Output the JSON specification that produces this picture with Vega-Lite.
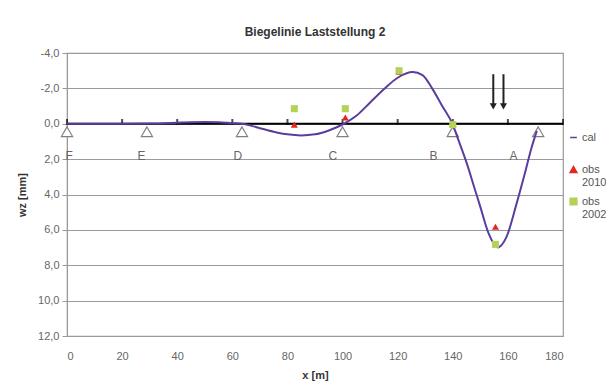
{
  "$schema": "https://vega.github.io/schema/vega-lite/v6.json",
  "width": 496,
  "height": 283,
  "autosize": "none",
  "padding": {"left": 67, "top": 53, "right": 43, "bottom": 51},
  "background": "white",
  "title": {"text": "Biegelinie Laststellung 2", "fontSize": 12, "font": "Liberation Sans", "fontWeight": "bold", "color": "#333333", "offset": 8, "anchor": "middle"},
  "config": {"view": {"stroke": "#999999", "strokeWidth": 1.2}, "font": "Liberation Sans"},
  "datasets": {
    "cal": [
      {"x": 0, "w": 0, "series": "cal"}, {"x": 10, "w": 0, "series": "cal"}, {"x": 20, "w": 0, "series": "cal"},
      {"x": 30, "w": -0.01, "series": "cal"}, {"x": 35, "w": -0.03, "series": "cal"}, {"x": 40, "w": -0.06, "series": "cal"},
      {"x": 45, "w": -0.09, "series": "cal"}, {"x": 50, "w": -0.1, "series": "cal"}, {"x": 55, "w": -0.08, "series": "cal"},
      {"x": 60, "w": -0.03, "series": "cal"}, {"x": 63.5, "w": 0, "series": "cal"}, {"x": 67, "w": 0.12, "series": "cal"},
      {"x": 70, "w": 0.25, "series": "cal"}, {"x": 75, "w": 0.45, "series": "cal"}, {"x": 80, "w": 0.6, "series": "cal"},
      {"x": 85, "w": 0.66, "series": "cal"}, {"x": 90, "w": 0.6, "series": "cal"}, {"x": 95, "w": 0.38, "series": "cal"},
      {"x": 100.5, "w": 0, "series": "cal"}, {"x": 105, "w": -0.45, "series": "cal"}, {"x": 110, "w": -1.2, "series": "cal"},
      {"x": 115, "w": -1.95, "series": "cal"}, {"x": 120, "w": -2.6, "series": "cal"}, {"x": 125.5, "w": -2.92, "series": "cal"},
      {"x": 129, "w": -2.75, "series": "cal"}, {"x": 132.5, "w": -2.0, "series": "cal"}, {"x": 136, "w": -1.05, "series": "cal"},
      {"x": 140, "w": 0.05, "series": "cal"}, {"x": 142, "w": 0.9, "series": "cal"}, {"x": 145, "w": 2.2, "series": "cal"},
      {"x": 148, "w": 3.7, "series": "cal"}, {"x": 150, "w": 4.7, "series": "cal"}, {"x": 153, "w": 6.2, "series": "cal"},
      {"x": 156.3, "w": 6.99, "series": "cal"}, {"x": 159.5, "w": 6.4, "series": "cal"}, {"x": 163, "w": 4.6, "series": "cal"},
      {"x": 166.5, "w": 2.6, "series": "cal"}, {"x": 168.5, "w": 1.4, "series": "cal"}, {"x": 170.5, "w": 0.4, "series": "cal"}
    ],
    "obs": [
      {"x": 82.5, "w": 0.05, "series": "obs 2010"}, {"x": 101, "w": -0.35, "series": "obs 2010"},
      {"x": 120.5, "w": -2.95, "series": "obs 2010"}, {"x": 140, "w": 0.0, "series": "obs 2010"},
      {"x": 155.5, "w": 5.82, "series": "obs 2010"},
      {"x": 82.5, "w": -0.85, "series": "obs 2002"}, {"x": 101, "w": -0.85, "series": "obs 2002"},
      {"x": 120.5, "w": -3.0, "series": "obs 2002"}, {"x": 140, "w": 0.05, "series": "obs 2002"},
      {"x": 155.5, "w": 6.82, "series": "obs 2002"}
    ],
    "supports": [
      {"x": 0, "w": 0.45}, {"x": 29, "w": 0.45}, {"x": 63.5, "w": 0.45},
      {"x": 100, "w": 0.45}, {"x": 140, "w": 0.45}, {"x": 171, "w": 0.45}
    ],
    "spans": [
      {"x": 0.8, "w": 1.8, "label": "F"}, {"x": 27, "w": 1.8, "label": "E"}, {"x": 62, "w": 1.8, "label": "D"},
      {"x": 96.5, "w": 1.8, "label": "C"}, {"x": 133, "w": 1.8, "label": "B"}, {"x": 162, "w": 1.8, "label": "A"}
    ],
    "beam": [{"x": 0, "x2": 180, "w": 0}],
    "ticks": [
      {"x": 0, "w": -0.1}, {"x": 20, "w": -0.1}, {"x": 40, "w": -0.1}, {"x": 60, "w": -0.1}, {"x": 80, "w": -0.1},
      {"x": 100, "w": -0.1}, {"x": 120, "w": -0.1}, {"x": 140, "w": -0.1}, {"x": 160, "w": -0.1}, {"x": 180, "w": -0.1}
    ],
    "arrows": [
      {"x": 154.7, "w": -2.8, "w2": -1.1, "head": -0.98},
      {"x": 158.4, "w": -2.8, "w2": -1.1, "head": -0.98}
    ]
  },
  "layer": [
    {
      "data": {"name": "supports"},
      "mark": {"type": "point", "shape": "triangle-up", "filled": true, "fill": "white", "stroke": "#808080", "strokeWidth": 1.2, "size": 125, "opacity": 1},
      "encoding": {
        "x": {"field": "x", "type": "quantitative", "scale": {"domain": [0, 180], "nice": false, "zero": false},
          "axis": {"title": "x [m]", "values": [0, 20, 40, 60, 80, 100, 120, 140, 160, 180], "grid": false, "ticks": false, "domain": false,
            "labelColor": "#666666", "labelFontSize": 11, "labelPadding": 14, "titleFontSize": 11, "titleFontWeight": "bold", "titleColor": "#333333", "titlePadding": 8}},
        "y": {"field": "w", "type": "quantitative", "scale": {"domain": [-4, 12], "nice": false, "zero": false, "reverse": true},
          "axis": {"title": "wz [mm]", "values": [-4, -2, 0, 2, 4, 6, 8, 10, 12], "tickCount": 9, "labelOverlap": false, "grid": true, "gridColor": "#9a9a9a", "gridWidth": 1.2,
            "domainColor": "#999999", "tickColor": "#999999", "tickSize": 5, "labelColor": "#666666", "labelFontSize": 11,
            "labelExpr": "replace(replace(format(datum.value, '.1f'), '.', ','), '\u2212', '-')", "labelPadding": 3,
            "titleFontWeight": "bold", "titleFontSize": 11, "titleColor": "#333333", "titlePadding": 10}}
      }
    },
    {
      "data": {"name": "spans"},
      "mark": {"type": "text", "fontSize": 12, "color": "#666666", "baseline": "middle", "align": "center"},
      "encoding": {
        "x": {"field": "x", "type": "quantitative"},
        "y": {"field": "w", "type": "quantitative"},
        "text": {"field": "label"}
      }
    },
    {
      "data": {"name": "beam"},
      "mark": {"type": "rule", "color": "black", "strokeWidth": 2},
      "encoding": {
        "x": {"field": "x", "type": "quantitative"},
        "x2": {"field": "x2"},
        "y": {"field": "w", "type": "quantitative"}
      }
    },
    {
      "data": {"name": "ticks"},
      "mark": {"type": "tick", "orient": "vertical", "size": 6, "thickness": 2, "color": "black"},
      "encoding": {
        "x": {"field": "x", "type": "quantitative"},
        "y": {"field": "w", "type": "quantitative"}
      }
    },
    {
      "data": {"name": "cal"},
      "mark": {"type": "line", "interpolate": "monotone", "strokeWidth": 2},
      "encoding": {
        "x": {"field": "x", "type": "quantitative"},
        "y": {"field": "w", "type": "quantitative"},
        "color": {"field": "series", "type": "nominal",
          "scale": {"domain": ["cal", "obs 2010", "obs 2002"], "range": ["#5b3d9f", "#e52620", "#b5d258"]}}
      }
    },
    {
      "data": {"name": "obs"},
      "mark": {"type": "point", "filled": true, "opacity": 1, "size": 50},
      "encoding": {
        "x": {"field": "x", "type": "quantitative"},
        "y": {"field": "w", "type": "quantitative"},
        "color": {"field": "series", "type": "nominal",
          "legend": {"orient": "none", "legendX": 501, "legendY": 79, "title": null, "labelFontSize": 11, "labelColor": "#555555",
            "labelExpr": "datum.label == 'cal' ? ['cal', ''] : split(datum.label, ' ')", "rowPadding": 7, "labelOffset": 3, "symbolSize": 45,
            "encode": {"symbols": {"update": {"stroke": {"scale": "color", "field": "value"}, "strokeWidth": {"signal": "datum.value == 'cal' ? 2 : 0"}}}}}},
        "shape": {"field": "series", "type": "nominal",
          "scale": {"domain": ["cal", "obs 2010", "obs 2002"], "range": ["stroke", "triangle-up", "square"]},
          "legend": {"orient": "none", "legendX": 501, "legendY": 79, "title": null, "labelFontSize": 11, "labelColor": "#555555",
            "labelExpr": "datum.label == 'cal' ? ['cal', ''] : split(datum.label, ' ')", "rowPadding": 7, "labelOffset": 3, "symbolSize": 45,
            "encode": {"symbols": {"update": {"stroke": {"scale": "color", "field": "value"}, "strokeWidth": {"signal": "datum.value == 'cal' ? 2 : 0"}}}}}}
      }
    },
    {
      "data": {"name": "arrows"},
      "mark": {"type": "rule", "color": "#222222", "strokeWidth": 2},
      "encoding": {
        "x": {"field": "x", "type": "quantitative"},
        "y": {"field": "w", "type": "quantitative"},
        "y2": {"field": "w2"}
      }
    },
    {
      "data": {"name": "arrows"},
      "mark": {"type": "point", "shape": "triangle-down", "filled": true, "color": "#222222", "opacity": 1, "size": 50},
      "encoding": {
        "x": {"field": "x", "type": "quantitative"},
        "y": {"field": "head", "type": "quantitative"}
      }
    }
  ]
}
